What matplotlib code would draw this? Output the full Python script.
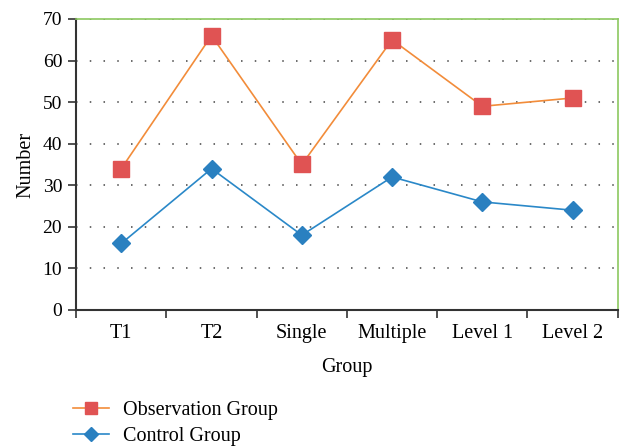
import matplotlib.pyplot as plt
import numpy as np

groups = ["T1", "T2", "Single", "Multiple", "Level 1", "Level 2"]
observation = [34, 66, 35, 65, 49, 51]
control = [16, 34, 18, 32, 26, 24]

plt.rcParams['font.family'] = ['Liberation Serif', 'DejaVu Serif']
plt.rcParams['font.size'] = 14.5

fig = plt.figure(figsize=(6.24, 4.47), dpi=100)
ax = fig.add_axes([0.122, 0.3065, 0.868, 0.651])

x = np.arange(len(groups))
ax.plot(x, observation, color='#F28C3A', lw=1.2, marker='s', ms=11,
        mfc='#E05353', mec='#E05353', label='Observation Group', zorder=3)
ax.plot(x, control, color='#2A88C8', lw=1.2, marker='D', ms=9,
        mfc='#2A80C0', mec='#2A80C0', label='Control Group', zorder=3)

ax.set_xlim(-0.5, len(groups) - 0.5)
ax.set_ylim(0, 70)
ax.set_yticks(range(0, 71, 10))
ax.set_xticks(x)
ax.set_xticklabels(groups)
ax.set_xticks(np.arange(-0.5, len(groups), 1.0), minor=True)
ax.tick_params(axis='x', which='major', length=0, pad=10)
ax.tick_params(axis='x', which='minor', length=6, width=1.2, color='#333333')
ax.tick_params(axis='y', length=6, width=1.2, color='#333333', pad=4,
               labelsize=14)

ax.yaxis.grid(True, linestyle=(0, (1, 8)), color='#444444', lw=1.1)
ax.set_axisbelow(True)

for s in ['left', 'bottom']:
    ax.spines[s].set_color('#333333')
    ax.spines[s].set_linewidth(1.5)
for s in ['top', 'right']:
    ax.spines[s].set_color('#8CC860')
    ax.spines[s].set_linewidth(1.2)

ax.set_xlabel('Group', labelpad=11)
ax.set_ylabel('Number', labelpad=5)

fig.legend(loc='upper left', bbox_to_anchor=(0.104, 0.122), frameon=False,
           handlelength=1.8, handletextpad=0.7, markerscale=0.75,
           labelspacing=0.35, borderaxespad=0)

fig.savefig('out.png', dpi=100)
